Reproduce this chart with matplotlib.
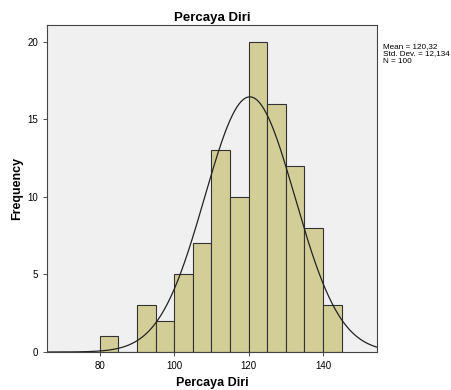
import numpy as np
import matplotlib
matplotlib.use('Agg')
from matplotlib import pyplot as plt

plt.rcParams['font.family'] = ['Liberation Sans', 'DejaVu Sans']

# histogram bins (left edges) and counts
bin_left = [80, 85, 90, 95, 100, 105, 110, 115, 120, 125, 130, 135, 140]
counts = [1, 0, 3, 2, 5, 7, 13, 10, 20, 16, 12, 8, 3]
bin_width = 5
mean = 120.32
std = 12.134
n = 100

fig = plt.figure(figsize=(4.51, 3.9), dpi=100)
ax = fig.add_axes([0.104, 0.0974, 0.732, 0.8386])
ax.set_facecolor('#F0F0F0')

ax.bar(bin_left, counts, width=bin_width, align='edge', color='#D3CE97',
       edgecolor='#333333', linewidth=0.8)

# normal curve
xs = np.linspace(65.8, 154.5, 400)
ys = n * bin_width / (std * np.sqrt(2 * np.pi)) * np.exp(-0.5 * ((xs - mean) / std) ** 2)
ax.plot(xs, ys, color='#222222', linewidth=0.9)

ax.set_xlim(65.8, 154.5)
ax.set_ylim(0, 21.07)
ax.set_xticks([80, 100, 120, 140])
ax.set_yticks([0, 5, 10, 15, 20])
ax.tick_params(labelsize=7, length=3, width=0.6, color='#333333')
for s in ax.spines.values():
    s.set_color('#444444')
    s.set_linewidth(0.8)

ax.set_title('Percaya Diri', fontsize=9.5, fontweight='bold', pad=3)
ax.set_xlabel('Percaya Diri', fontsize=9, fontweight='bold', labelpad=4)
ax.set_ylabel('Frequency', fontsize=9, fontweight='bold', labelpad=3)

fig.text(383 / 451, 1 - 43 / 390, 'Mean = 120,32\nStd. Dev. = 12,134\nN = 100',
         fontsize=5.9, va='top', ha='left', linespacing=1.1)

fig.savefig('out.png', dpi=100)
